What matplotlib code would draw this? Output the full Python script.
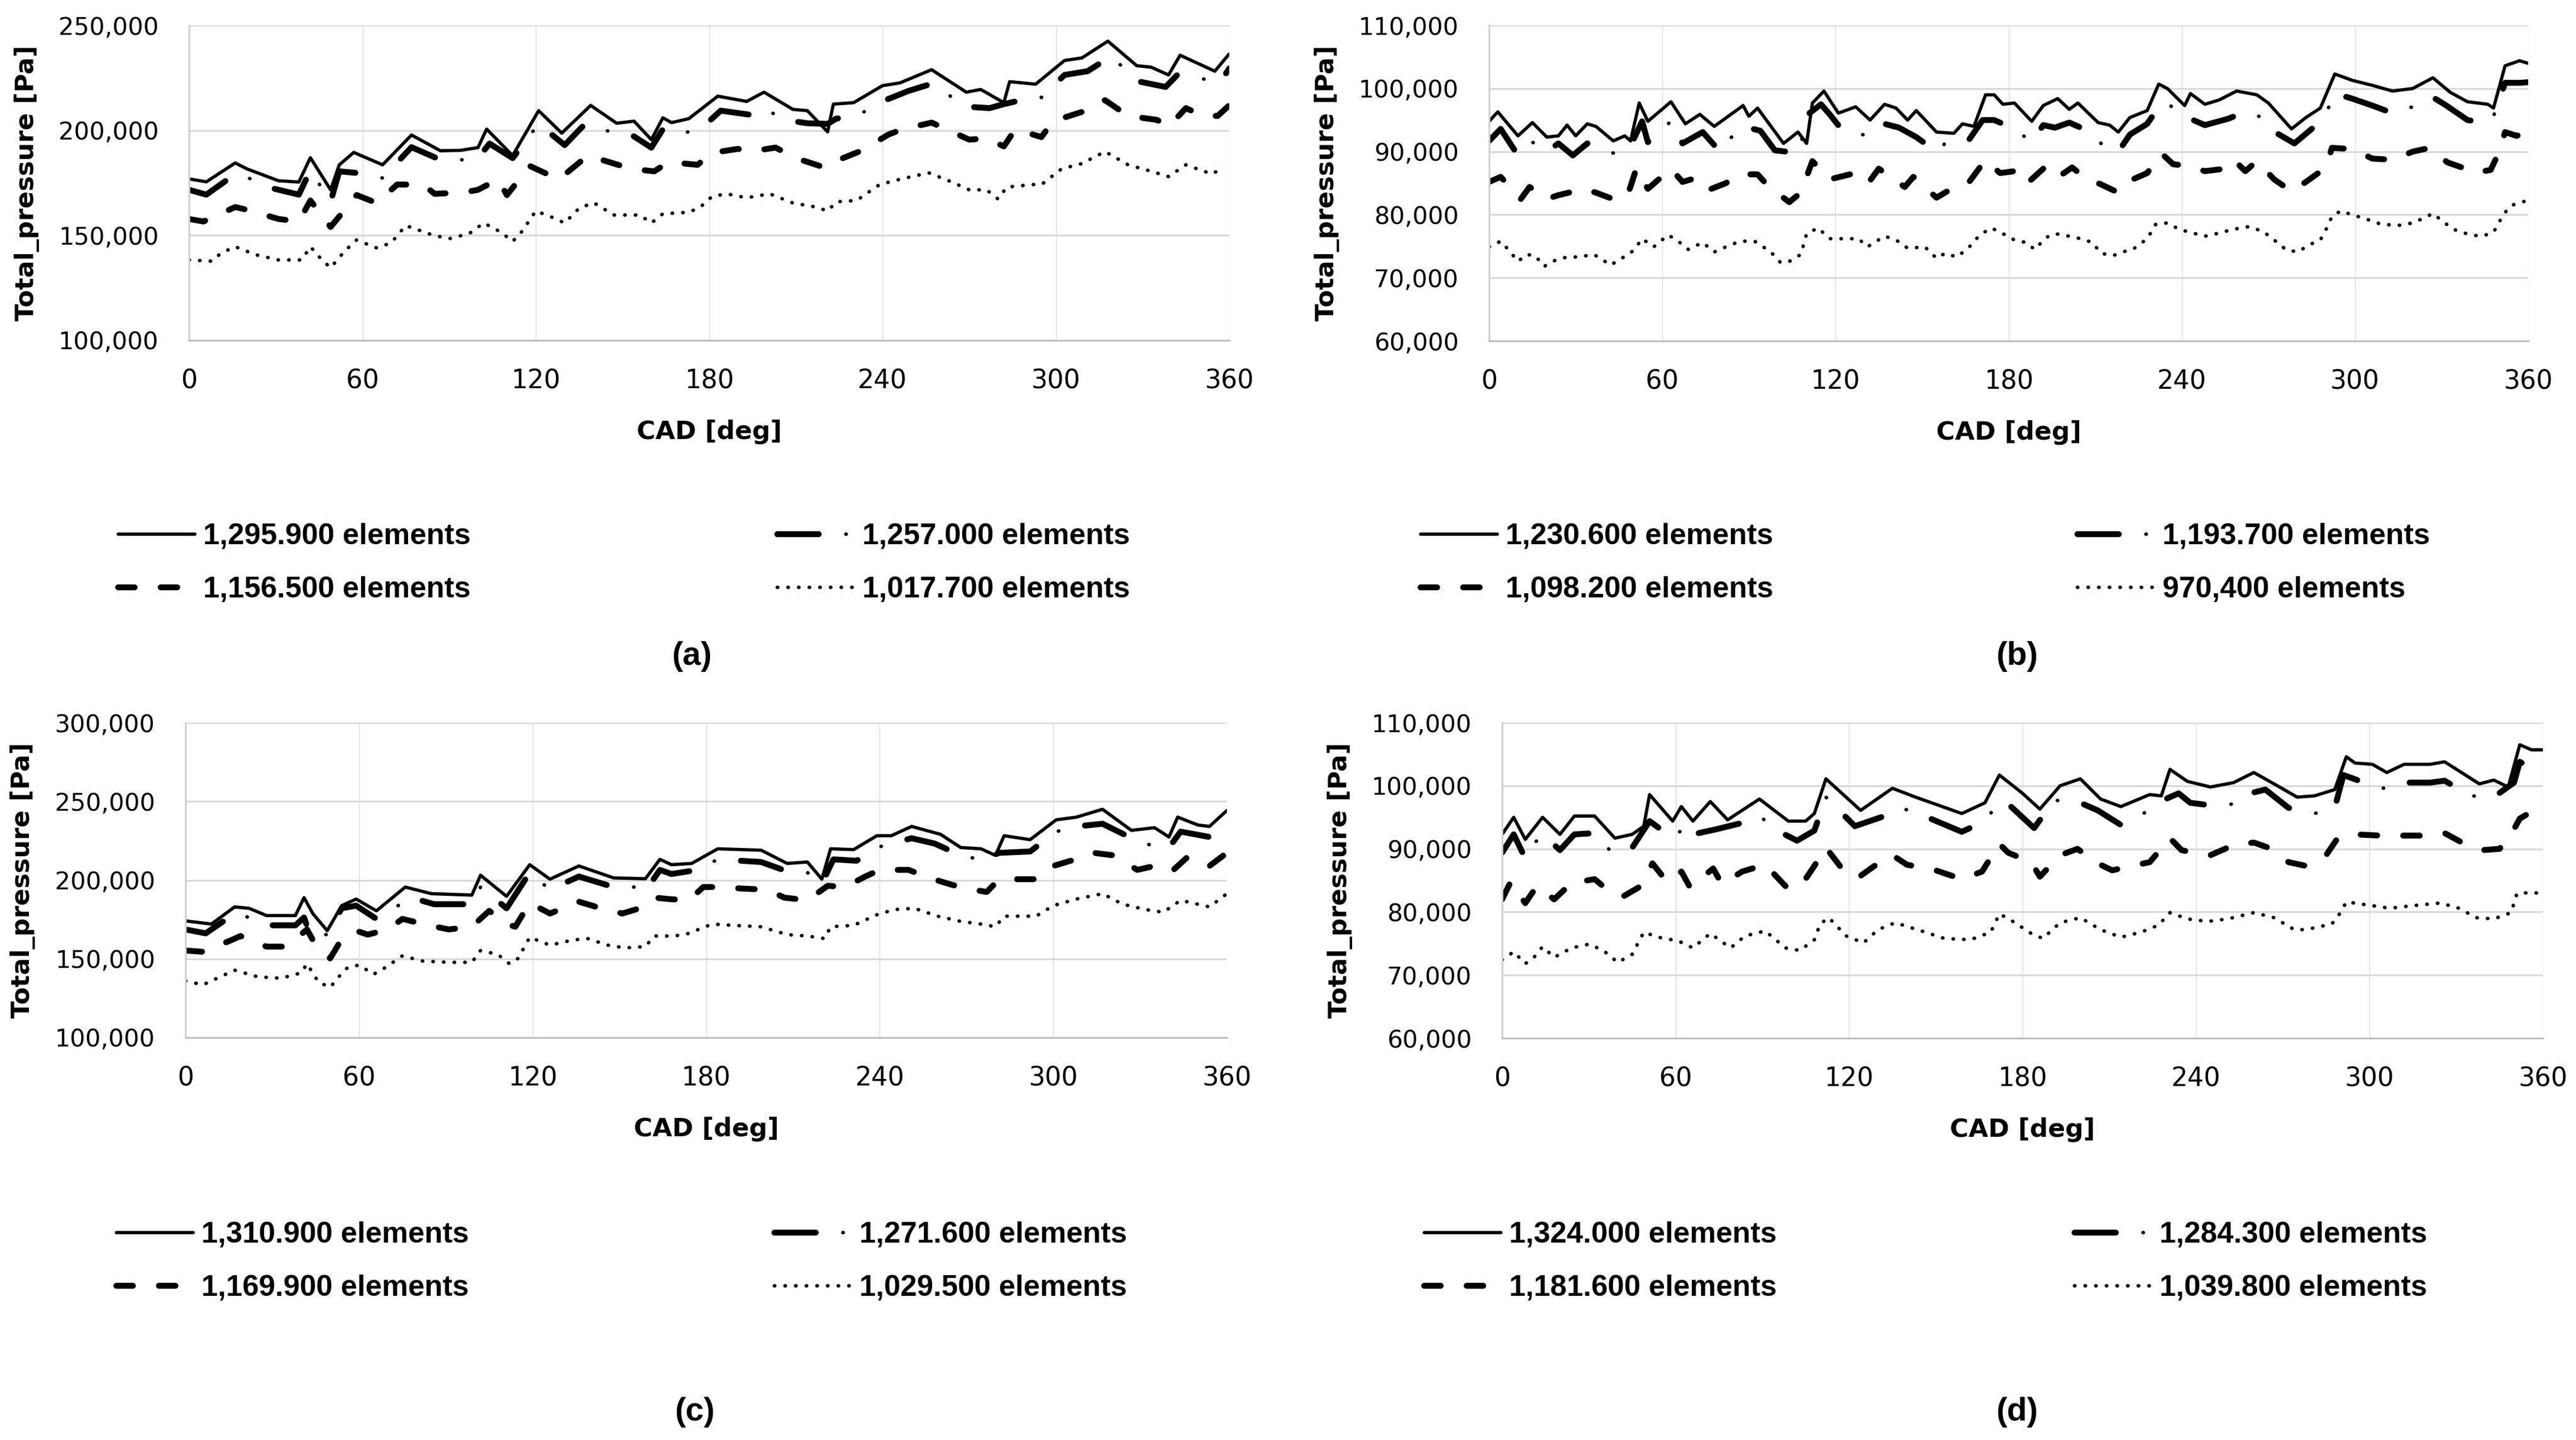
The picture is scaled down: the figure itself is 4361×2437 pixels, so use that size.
import matplotlib
matplotlib.use("Agg")
import numpy as np
import matplotlib.pyplot as plt
from matplotlib.ticker import FuncFormatter, MultipleLocator

# ---------------- DATA (values in thousands of Pa, x in CAD degrees) ----------------
# Panel (a)
a_labels = ["1,295.900 elements", "1,257.000 elements", "1,156.500 elements", "1,017.700 elements"]
a_solid_x = [0,6,16,20,31,38,42,49,52,57,67,77,87,94,100,103,112,121,129,139,148,154,160,164,167,173,183,193,199,209,214,221,223,230,240,246,257,269,274,282,284,293,303,309,318,328,333,339,343,355,360]
a_solid_y = [176.9,175.5,184.5,181.7,176,175.4,187,171.7,183.6,189.5,183.6,197.8,190.3,190.5,191.8,200.6,188,209.4,198.7,211.9,203.4,204.4,195.6,206,203.7,205.6,216.3,213.8,218.2,210,209.4,199.3,212.5,213.2,221.3,222.6,228.9,218.2,219.5,213.2,223.2,222,233.3,234.5,242.5,230.8,230.1,226.4,235.8,228.2,236.4]
a_dd_x = [0,6,16,20,28,38,42,49,52,60,67,77,87,95,100,104,112,121,130,137,146,153,160,164,170,178,184,194,199,206,214,221,224,231,241,249,257,269,277,282,292,295,303,311,319,329,338,342,351,357,360]
a_dd_y = [171.7,169.4,179.2,177.7,172.7,169.4,181,166,180.5,179.5,177.3,192,186,186,186.8,193.7,186.8,203.1,193,203,199.3,198,191.8,200.6,198,201.8,209.4,207.5,210.6,205,203.4,203.1,205.6,206.9,214.4,218.8,222.2,211.3,210.6,212.5,215.7,215.7,226.4,228.2,235.2,223.2,220.7,226.4,224.5,223.2,229.5]
a_dash_x = [0,5,16,20,31,38,42,49,52,58,65,72,81,85,95,100,107,110,118,124,128,138,144,153,161,166,176,181,190,194,203,210,220,224,233,242,247,257,262,270,276,282,286,295,299,309,317,325,335,339,345,351,356,360]
a_dash_y = [157.8,156.6,163.5,162.2,157.8,156.6,166.6,154,159,169.2,165.4,174.2,174.2,169.8,170.4,171.7,176.7,169.2,183,179.2,176.7,188,185.5,181.7,180.5,184.9,183.6,189.3,191.2,189.9,191.8,186.8,182.3,185.5,190.5,198,200.6,203.7,200.6,195.6,196.2,192.4,200.6,196.8,204.4,208.8,214.4,206.9,205,201.8,210.6,206.9,206.9,211.9]
a_dot_x = [0,8,11,16,23,31,39,42,46,49,54,58,65,70,75,84,90,97,102,108,112,115,120,125,130,135,140,147,156,160,164,173,177,181,186,193,201,209,217,221,224,231,239,246,256,264,270,276,280,283,292,295,302,309,317,325,333,339,345,354,358]
a_dot_y = [138.3,137.7,141.5,144.6,140.8,138.3,138.3,144.6,138.3,134.6,142.7,147.8,144,146.5,154.7,150.3,148.4,150.9,155.9,151.5,147.1,151.5,161.6,159,155.9,162.9,165.6,159.7,159.7,155.9,160.3,161,163.5,168.5,169.8,167.9,169.8,165.4,163.5,161.6,166,166.6,174.2,176.7,179.8,175.4,171.7,171.7,167.3,173,174.2,174.2,181.7,184.2,189.9,183.6,180.5,178,183.6,179.2,182.3]

# Panel (b)
b_labels = ["1,230.600 elements", "1,193.700 elements", "1,098.200 elements", "970,400 elements"]
b_solid_x = [0,3,10,15,20,24,27,30,34,37,43,47,49,52,55,63,68,73,78,88,90,93,102,107,110,112,116,121,127,132,137,141,145,148,155,161,164,168,172,175,178,182,188,192,197,201,204,211,215,218,222,228,232,235,241,243,248,253,259,266,270,278,283,288,293,299,306,313,320,327,333,339,346,348,352,357,360]
b_solid_y = [94.8,96.3,92.5,94.6,92.3,92.5,94.2,92.5,94.4,94,91.7,92.5,91.7,97.7,94.8,97.9,94.4,95.9,94,97.3,95.6,96.9,91.3,93.1,91.3,97.7,99.6,96.1,97.1,95,97.5,96.9,95,96.5,93.1,92.9,94.4,94,99,99,97.5,97.7,94.8,97.3,98.4,96.7,97.7,94.6,94.2,93.1,95.4,96.5,100.7,100,97.3,99.2,97.5,98.2,99.6,99,97.7,93.6,95.4,96.9,102.3,101.3,100.5,99.6,100,101.7,99.4,97.9,97.5,96.9,103.6,104.4,104]
b_dd_x = [0,4,10,15,20,24,29,34,37,44,50,53,55,63,67,74,80,84,88,94,99,107,111,115,118,122,131,137,142,148,155,158,162,166,171,175,182,188,192,196,201,206,212,218,222,228,233,236,241,248,256,262,268,273,279,285,290,293,299,306,313,320,327,331,339,345,348,352,357,360]
b_dd_y = [91.7,93.6,89.4,91.5,90,91.3,89.4,91.3,90.8,89.6,91.9,94.8,91.5,94.8,91.3,93.1,90,92.3,94,93.3,90.2,89.8,96.1,97.5,95.9,93.6,92.5,94.4,93.8,92.3,90,91.3,91.3,91.7,95,95,93.6,91.5,94.2,93.8,94.6,93.6,91.3,90,92.7,94.4,97.7,97.3,95.6,94.2,95.2,96.3,95.4,92.9,91.3,93.6,96.1,99.2,98.4,97.3,96.1,97.1,98.6,97.5,95,94.6,95.6,100.9,100.9,101]
b_dash_x = [0,4,11,14,20,24,33,37,44,48,51,55,63,67,73,77,82,87,93,97,104,108,112,118,125,131,135,144,147,155,162,166,172,177,182,186,192,196,202,206,212,218,223,228,233,237,243,248,255,258,262,266,272,278,283,290,292,299,306,313,320,326,332,337,341,347,350,352,356,360]
b_dash_y = [85.2,86,82.5,84.4,82.5,83.1,84.1,83.5,82.3,83.1,87.3,84.1,87.3,85.2,86,84.1,85,86.4,86.4,84.4,82,83.5,88.5,85.6,86.4,84.8,87.3,84.4,86,82.7,84.6,85,88.7,86.6,86.9,84.8,87.3,85.6,87.5,86,84.8,83.5,85.6,86.6,89.7,88,87.7,86.9,87.3,88.7,86.9,88.5,85.6,83.7,85.2,87.5,90.6,90.4,88.9,88.7,90,90.6,88.3,87.5,86.6,87.1,90,93.1,92.5,93.1]
b_dot_x = [0,4,7,10,13,16,19,23,27,31,36,38,42,46,50,53,57,62,65,69,74,78,83,87,92,95,98,101,104,108,110,114,118,124,128,131,137,141,145,151,155,158,162,166,170,174,178,182,186,189,193,196,201,205,209,212,216,221,223,228,231,235,239,243,248,252,258,263,268,272,276,280,285,288,290,292,295,299,304,309,315,320,324,327,330,334,340,344,348,350,353,355,360]
b_dot_y = [74.9,75.8,74.3,72.6,73.7,73.5,71.8,72.8,73.3,73.3,73.7,73.3,72,73.1,74.3,76.2,74.9,76.8,76,74.5,75.6,74.1,75.1,75.8,75.8,74.9,73.9,72.4,72.6,73.7,77,77.9,76.2,76.2,76.2,74.9,76.6,76,74.7,74.9,73.1,73.9,73.3,74.7,76.8,77.9,77,76,75.6,74.5,76.4,77,76.6,76.2,75.6,73.9,73.5,74.3,74.5,76.2,78.5,78.7,77.7,77.2,76.6,77,77.7,78.1,77.4,76,74.5,74.1,75.4,76,77.7,79.7,80.6,80,79.3,78.5,78.3,78.7,79.5,80.2,79.1,77.7,76.8,76.6,77.2,78.9,81,81.6,82.3]

# Panel (c)
c_labels = ["1,310.900 elements", "1,271.600 elements", "1,169.900 elements", "1,029.500 elements"]
c_solid_x = [0,9,17,22,28,38,41,44,49,54,59,66,76,85,99,102,111,119,126,136,148,159,164,168,175,184,199,208,215,220,223,231,239,244,251,261,268,275,280,283,292,301,308,317,327,335,340,343,350,354,360]
c_solid_y = [174.1,172.1,183,182.1,177.5,177.5,188.9,178.8,167.9,183.8,188,180.5,195.6,191.4,190.5,203.1,189.7,209.8,200.6,209,201.4,200.9,213.2,209.8,210.6,219.9,219,210.6,211.5,200.6,219.9,219.4,228.2,228.2,234.1,229.1,220.7,219.9,215.7,228.2,225.7,238.3,240,245,231.6,233.3,227.4,240,235,234.1,244.2]
c_dd_x = [0,7,17,22,29,38,41,43,49,54,59,66,78,86,99,102,111,119,126,136,148,155,159,164,168,177,184,192,199,208,215,220,224,232,239,251,259,268,277,281,292,301,308,317,329,335,340,344,354,360]
c_dd_y = [168.7,166.2,178.8,176.3,171.3,171.3,176.3,165.4,165.4,182.1,183.8,175.4,188.9,184.7,184.7,195.6,182.1,204.8,193.9,202.3,195.6,195.6,193,206.5,203.9,206.5,213.2,212.3,211.5,205.6,204.8,198.1,213.2,212.3,220.7,226.6,223.2,215.7,212.3,217.3,218.2,230.8,234.1,235.8,224.9,221.5,220.7,230.8,227.4,237.5]
c_dash_x = [0,6,16,19,28,35,42,45,50,53,59,63,70,75,84,91,99,105,111,114,119,126,136,142,151,157,162,167,174,179,185,192,201,207,215,222,228,235,240,250,257,265,272,277,281,286,294,300,306,314,321,329,335,341,346,350,354,360]
c_dash_y = [155.3,154.5,162,164.5,157.8,157.8,168.7,158.7,150.3,159.5,167.9,165.4,168.7,175.4,171.3,168.7,170.4,180.5,172.1,170.4,185.5,178.8,186.3,183,178.8,182.1,188.9,188,187.2,195.6,195.6,194.7,193.9,188.9,187.2,196.4,195.6,202.3,206.5,206.5,201.5,197,194,192.5,200,200.6,200.6,209,212.3,217.3,215.7,206.5,209,205.6,214,209,209,217.3]
c_dot_x = [0,6,12,17,25,33,40,42,46,50,53,56,60,65,69,75,82,91,99,102,108,112,115,119,126,134,139,146,152,159,162,169,174,182,189,199,208,215,221,223,231,239,245,252,260,268,275,280,283,294,300,308,317,324,332,338,344,350,354,360]
c_dot_y = [136,133.5,138.6,142.8,138.6,137.7,141.1,146.9,135.2,131.9,138.6,144.4,146.1,140.2,144.4,151.9,148.6,147.8,147.8,155.3,152.8,146.9,150.3,163.7,158.7,162,162.9,158.7,157,157.8,164.5,164.5,166.2,172.1,171.3,170.4,165.4,164.5,162.9,170.4,171.3,178,181.3,182.1,177.1,173.8,172.1,170.4,177.1,177.1,183.8,188,191.4,184.7,181.3,179.6,187.2,184.7,183,191.4]

# Panel (d)
d_labels = ["1,324.000 elements", "1,284.300 elements", "1,181.600 elements", "1,039.800 elements"]
d_solid_x = [0,4,8,14,20,25,32,39,45,49,51,59,62,66,72,78,89,99,105,108,112,124,135,143,159,167,172,180,186,193,200,207,214,224,228,231,237,245,253,260,267,275,281,288,292,295,301,306,312,321,326,338,343,348,352,356,360]
d_solid_y = [92.3,95,91.5,95,92.3,95.2,95.2,91.7,92.3,93.6,98.6,94.4,96.7,94.4,97.5,94.6,97.9,94.4,94.4,95.6,101.1,96.1,99.6,98.2,95.6,97.3,101.7,98.8,96.3,100,101.1,97.9,96.7,98.6,98.4,102.6,100.7,99.8,100.5,102.1,100.3,98.2,98.4,99.4,104.6,103.6,103.4,102.1,103.4,103.4,103.8,100.3,100.9,99.8,106.5,105.7,105.7]
d_dd_x = [0,4,8,11,14,20,25,32,38,45,51,59,64,66,74,82,89,96,102,108,112,122,131,138,145,159,167,172,176,184,191,199,206,214,223,230,234,238,245,253,257,264,272,281,288,291,297,305,312,321,326,335,343,350,352,356,360]
d_dd_y = [89.4,92.3,88.5,90.8,92.3,89.8,92.3,92.5,89.4,90.2,94.4,91.7,93.8,92.3,93.1,94,95.2,92.7,91.3,92.9,98.2,93.6,95,96.5,95.4,92.7,94.4,97.5,96.7,93.3,97.7,97.5,96.1,93.8,95.9,98,98.8,97.3,96.9,97.1,98.6,99.4,96.5,95.6,96.5,101.7,100.7,99.6,100.5,100.5,100.8,98.4,98.2,100.5,103.8,102.8,102.3]
d_dash_x = [0,3,8,12,18,24,32,37,42,48,52,57,62,65,73,76,83,91,98,103,108,112,118,123,130,135,140,150,159,166,172,175,183,186,193,199,206,211,218,224,231,235,241,245,253,260,265,272,278,285,289,295,304,312,321,326,332,339,345,349,352,355,358]
d_dash_y = [82,84.8,81.4,84.1,82,84.6,85.2,83.3,82.5,84.1,87.7,84.8,86.4,83.9,86.9,84.4,86.4,87.5,84.1,83.9,87.3,90.2,86.6,85.4,87.7,89,87.5,86.6,85.2,86.4,90.8,89.4,87.9,85.6,89,90,87.7,86.6,87.3,87.9,91.7,89.8,89.2,89,90.6,91,90.2,87.9,87.3,89,91.7,92.3,92.1,92.1,92.1,92.5,91,89.8,90,92.3,94.8,95.6,95.5]
d_dot_x = [0,4,8,11,14,18,24,30,35,40,45,49,54,61,66,72,79,84,91,98,103,108,110,113,119,125,130,136,145,153,162,169,172,176,183,187,193,200,207,214,221,227,231,237,244,251,260,267,274,278,287,290,292,298,307,315,324,330,337,343,349,351,356,360]
d_dot_y = [72.4,73.7,71.8,72.8,74.5,72.8,74.3,74.9,73.9,72,73.3,76.8,76,75.4,74.3,76.6,74.3,76.2,77,74.3,73.9,75.6,78.1,79.1,76.2,75.1,77.2,78.3,77,75.8,75.6,76.8,79.7,78.7,76.6,75.8,78.3,79.1,77.2,76,76.8,77.9,79.9,78.9,78.5,78.9,79.9,79.1,77.2,77.2,78.1,79.9,81.6,81.2,80.6,81,81.4,80.8,79.1,78.9,79.9,82.9,83.1,82.9]

captions = ["(a)", "(b)", "(c)", "(d)"]
x_ticks = [0, 60, 120, 180, 240, 300, 360]
y_ranges = [(100000, 250000, 50000), (60000, 110000, 10000), (100000, 300000, 50000), (60000, 110000, 10000)]

# ---------------- LAYOUT (pixels of the 4361x2437 canvas) ----------------
W, H, DPI = 4361, 2437, 100
PT = 72.0 / DPI  # points per pixel

fig = plt.figure(figsize=(W / DPI, H / DPI), dpi=DPI)
fig.patch.set_facecolor("white")

axes_px = [(320, 43, 2081, 576), (2521, 43, 4280, 577), (314, 1223, 2077, 1756), (2543, 1223, 4305, 1757)]
legend_px = [  # (left column handle x, right column handle x, centre y of the two rows)
    (200, 1316, 953), (2405, 3517, 953), (197, 1311, 2135), (2411, 3512, 2135)]
caption_px = [(1171, 1111), (3415, 1111), (1176, 2390), (3415, 2390)]

series = [
    (a_labels, (a_solid_x, a_solid_y), (a_dd_x, a_dd_y), (a_dash_x, a_dash_y), (a_dot_x, a_dot_y)),
    (b_labels, (b_solid_x, b_solid_y), (b_dd_x, b_dd_y), (b_dash_x, b_dash_y), (b_dot_x, b_dot_y)),
    (c_labels, (c_solid_x, c_solid_y), (c_dd_x, c_dd_y), (c_dash_x, c_dash_y), (c_dot_x, c_dot_y)),
    (d_labels, (d_solid_x, d_solid_y), (d_dd_x, d_dd_y), (d_dash_x, d_dash_y), (d_dot_x, d_dot_y)),
]

TICK_Y_FONT = ["DejaVu Sans"]
TICK_X_FONT = ["Liberation Sans Narrow", "DejaVu Sans"]
LABEL_FONT = ["DejaVu Sans"]
LEG_FONT = ["Liberation Sans", "DejaVu Sans"]

fmt = FuncFormatter(lambda v, p: f"{int(round(v)):,}")

lw_solid = 5.5 * PT
lw_thick = 10.0 * PT
lw_dot = 6.0 * PT

for i, (labels, s1, s2, s3, s4) in enumerate(series):
    l, t, r, b = axes_px[i]
    ax = fig.add_axes([l / W, 1 - b / H, (r - l) / W, (b - t) / H])
    ymin, ymax, ystep = y_ranges[i]
    ax.set_xlim(0, 360)
    ax.set_ylim(ymin, ymax)
    ax.set_xticks(x_ticks)
    ax.yaxis.set_major_locator(MultipleLocator(ystep))
    ax.yaxis.set_major_formatter(fmt)

    ax.set_axisbelow(True)
    ax.grid(axis="y", color="#d9d9d9", linewidth=3 * PT)
    ax.grid(axis="x", color="#d9d9d9", linewidth=1.3 * PT)
    for sp in ("top", "right"):
        ax.spines[sp].set_visible(False)
    ax.spines["bottom"].set_color("#bfbfbf")
    ax.spines["bottom"].set_linewidth(3 * PT)
    ax.spines["left"].set_color("#d0d0d0")
    ax.spines["left"].set_linewidth(3 * PT)

    ax.tick_params(axis="both", length=0)
    ax.tick_params(axis="y", pad=37)
    ax.tick_params(axis="x", pad=34)
    for lab in ax.get_yticklabels():
        lab.set_fontfamily(TICK_Y_FONT)
        lab.set_fontsize(29.5)
    for lab in ax.get_xticklabels():
        lab.set_fontfamily(TICK_X_FONT)
        lab.set_fontsize(31.5)

    ax.set_ylabel("Total_pressure [Pa]", fontsize=31, fontweight="bold", fontfamily=LABEL_FONT,
                  va="center")
    ax.yaxis.set_label_coords(-0.156, 0.5)
    ax.set_xlabel("CAD [deg]", fontsize=31, fontweight="bold", fontfamily=LABEL_FONT, va="center")
    ax.xaxis.set_label_coords(0.5, -0.29)

    # series
    x1, y1 = s1
    h_solid, = ax.plot(x1, np.array(y1) * 1000, color="black", lw=lw_solid,
                       solid_capstyle="round", solid_joinstyle="round")

    x2, y2 = s2
    y2p = np.array(y2) * 1000
    h_ddA, = ax.plot(x2, y2p, color="black", lw=lw_thick,
                     linestyle=(0, (7.0, 9.2)), dash_capstyle="round", dash_joinstyle="round")
    h_ddB, = ax.plot(x2, y2p, color="black", lw=lw_dot,
                     linestyle=(7.67, (0.1, 26.9)), dash_capstyle="round", dash_joinstyle="round")

    x3, y3 = s3
    h_dash, = ax.plot(x3, np.array(y3) * 1000, color="black", lw=lw_thick,
                      linestyle=(0, (2.8, 4.4)), dash_capstyle="round", dash_joinstyle="round")

    x4, y4 = s4
    h_dot, = ax.plot(x4, np.array(y4) * 1000, color="black", lw=lw_dot,
                     linestyle=(0, (0.1, 2.9)), dash_capstyle="round", dash_joinstyle="round")

    # legends (two columns)
    lx1, lx2, lyc = legend_px[i]
    common = dict(loc="center left", bbox_transform=fig.transFigure, frameon=False,
                  borderpad=0, borderaxespad=0, handlelength=2.6, handletextpad=0.28,
                  labelspacing=0.88, prop={"family": LEG_FONT, "weight": "bold", "size": 36})
    leg1 = ax.legend([h_solid, h_dash], [labels[0], labels[2]],
                     bbox_to_anchor=(lx1 / W, 1 - lyc / H), **common)
    ax.add_artist(leg1)
    ax.legend([(h_ddA, h_ddB), h_dot], [labels[1], labels[3]],
              bbox_to_anchor=(lx2 / W, 1 - lyc / H), **common)

    cx, cy = caption_px[i]
    fig.text(cx / W, 1 - cy / H, captions[i], ha="center", va="center", fontsize=40,
             fontweight="bold", fontfamily=LEG_FONT)

fig.savefig("out.png", dpi=DPI, facecolor="white")
